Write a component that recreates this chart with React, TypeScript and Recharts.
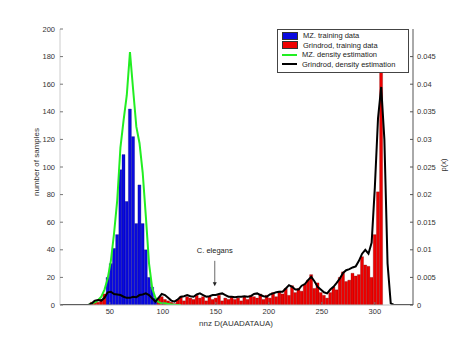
import { ComposedChart, Bar, Line, XAxis, YAxis, ReferenceLine, Legend } from 'recharts'

const FONT = '"Liberation Sans", Arial, sans-serif'
const BLUE = '#0a0ae0'
const RED = '#ee0000'
const GREEN = '#22ee22'
const BLACK = '#000000'

// histogram bins are 3 units wide, values are counts (left axis)
const BIN = 3
const blueFrom = 48
const blueCounts = [20, 30, 41, 51, 98, 109, 75, 142, 122, 59, 87, 59, 40, 20, 13, 5]

const redFrom = 30
const redCounts: (number | null)[] = [
  0, 2, 3, 2, 4, 8,
  null, null, null, null, null, null, null, null, null, null, null, null, null, null, null, null,
  5, 6, 4, 3, 2, 1, 4, 6, 3, 6,
  5, 4, 7, 5, 6, 3, 6, 4, 5, 7,
  3, 5, 4, 6, 4, 5, 3, 6, 4, 7,
  6, 5, 8, 4, 7, 5, 9, 6, 10, 8,
  12, 7, 14, 9, 12, 10, 15, 18, 22, 12,
  16, 9, 7, 5, 9, 13, 11, 20, 24, 17,
  18, 23, 21, 22, 35, 29, 28, 20, 51, 82, 200,
]

// density estimates, p(x) (right axis)
const greenFrom = 18
const greenP = [
  0, 0, 0, 0, 0, 0.0003, 0.0005, 0.0009, 0.0015, 0.0028,
  0.0048, 0.008, 0.013, 0.019, 0.0285, 0.0335, 0.038, 0.0458, 0.039, 0.0323,
  0.0293, 0.024, 0.016, 0.0075, 0.003, 0.0013, 0.0005, 0.0003, 0.0003, 0.0002,
  0.0001, 0, 0, 0,
]

const blackFrom = 3
const blackP = [
  0, 0, 0, 0, 0, 0, 0, 0, 0, 0,
  0.0003, 0.0008, 0.0009, 0.0008, 0.0013, 0.0023, 0.0024, 0.002, 0.0019, 0.0018,
  0.0015, 0.0013, 0.0013, 0.0015, 0.0014, 0.0018, 0.0019, 0.0021, 0.0018, 0.0012,
  0.0006, 0.0013, 0.002, 0.0018, 0.0013, 0.0008, 0.0006, 0.001, 0.0015, 0.0016,
  0.0018, 0.0016, 0.0015, 0.0019, 0.0021, 0.0018, 0.0015, 0.0016, 0.0018, 0.0018,
  0.002, 0.0021, 0.0018, 0.0015, 0.0015, 0.0014, 0.0015, 0.0015, 0.0016, 0.0015,
  0.0016, 0.002, 0.0021, 0.0018, 0.0016, 0.0015, 0.0019, 0.0021, 0.0023, 0.0024,
  0.0024, 0.003, 0.0036, 0.0033, 0.0028, 0.0028, 0.0035, 0.0038, 0.0045, 0.0051,
  0.0043, 0.0033, 0.0028, 0.0023, 0.0021, 0.0028, 0.0033, 0.004, 0.0048, 0.0058,
  0.0063, 0.0065, 0.0068, 0.007, 0.008, 0.0093, 0.01, 0.0093, 0.0113, 0.0213,
  0.0338, 0.0395, 0.03, 0.0075, 0.0003, 0, 0, 0, 0, 0,
  0, 0,
]

const xTicks = [50, 100, 150, 200, 250, 300]
const leftTicks = [0, 20, 40, 60, 80, 100, 120, 140, 160, 180, 200]
const rightTicks = [0, 0.005, 0.01, 0.015, 0.02, 0.025, 0.03, 0.035, 0.04, 0.045]

const legendItems = [
  { label: 'MZ. training data', kind: 'bar', color: BLUE },
  { label: 'Grindrod, training data', kind: 'bar', color: RED },
  { label: 'MZ. density estimation', kind: 'line', color: GREEN },
  { label: 'Grindrod, density estimation', kind: 'line', color: BLACK },
]

type Row = { x: number; blue?: number | null; red?: number | null; green?: number; black?: number }

const buildRows = () => {
  const map = new Map<number, Row>()
  const put = (from: number, vals: (number | null)[], key: keyof Row) => {
    vals.forEach((v, i) => {
      const x = from + i * BIN
      const row = map.get(x) || { x }
      ;(row as any)[key] = v
      map.set(x, row)
    })
  }
  put(blackFrom, blackP, 'black')
  put(greenFrom, greenP, 'green')
  put(redFrom, redCounts, 'red')
  put(blueFrom, blueCounts, 'blue')
  return Array.from(map.values()).sort((a, b) => a.x - b.x)
}

const rows = buildRows()

const tickStyle = { fill: '#333', fontSize: 7.5, fontFamily: FONT }

const LegendBox = () => (
  <div
    style={{
      border: '1px solid #444',
      background: '#fff',
      padding: '1px 4px 3px 4px',
      fontFamily: FONT,
      fontSize: 7.5,
      color: '#222',
      boxSizing: 'border-box',
      width: 132,
    }}
  >
    {legendItems.map((it) => (
      <div key={it.label} style={{ display: 'flex', alignItems: 'center', height: 9.5, whiteSpace: 'nowrap' }}>
        {it.kind === 'bar' ? (
          <span style={{ display: 'inline-block', width: 14, height: 6, background: it.color, border: '0.5px solid #333', marginRight: 5 }} />
        ) : (
          <span style={{ display: 'inline-block', width: 15, height: 0, borderTop: `2px solid ${it.color}`, marginRight: 5 }} />
        )}
        <span>{it.label}</span>
      </div>
    ))}
  </div>
)

const Arrow = (p: any) => (
  <g>
    <line x1={p.x1} y1={p.y1} x2={p.x2} y2={p.y2 - 3} stroke="#444" strokeWidth={0.8} />
    <polygon points={`${p.x2 - 2},${p.y2 - 4} ${p.x2 + 2},${p.y2 - 4} ${p.x2},${p.y2}`} fill="#222" />
  </g>
)

export default function App() {
  return (
    <div style={{ position: 'absolute', left: 0, top: 0, background: '#fff' }}>
      <ComposedChart width={457} height={343} data={rows} margin={{ top: 29, right: 0, bottom: 0, left: 0 }}>
        <XAxis
          dataKey="x"
          type="number"
          domain={[3, 336]}
          ticks={xTicks}
          allowDataOverflow
          height={38}
          tickSize={-3}
          tickMargin={7}
          axisLine={{ stroke: '#bbb' }}
          tickLine={{ stroke: '#777' }}
          tick={tickStyle}
          label={() => (
            <text x={236} y={326} textAnchor="middle" fontSize={8} fontFamily={FONT} fill="#333">
              nnz D(AUADATAUA)
            </text>
          )}
        />
        <YAxis
          yAxisId="n"
          domain={[0, 200]}
          ticks={leftTicks}
          allowDataOverflow
          width={60}
          tickSize={-3}
          tickMargin={8}
          axisLine={{ stroke: '#ccc' }}
          tickLine={{ stroke: '#777' }}
          tick={tickStyle}
          label={() => (
            <text x={39} y={162} transform="rotate(-90, 39, 162)" textAnchor="middle" fontSize={8} fontFamily={FONT} fill="#333">
              number of samples
            </text>
          )}
        />
        <YAxis
          yAxisId="p"
          orientation="right"
          domain={[0, 0.05]}
          ticks={rightTicks}
          allowDataOverflow
          width={44}
          tickSize={-3}
          tickMargin={7}
          axisLine={{ stroke: '#555' }}
          tickLine={{ stroke: '#555' }}
          tick={tickStyle}
          label={() => (
            <text x={446} y={165} transform="rotate(-90, 446, 165)" textAnchor="middle" fontSize={7.5} fontFamily={FONT} fill="#333">
              p(x)
            </text>
          )}
        />
        <Bar yAxisId="n" dataKey="blue" stackId="h" barSize={3} fill={BLUE} stroke="#00006a" strokeWidth={0.3} isAnimationActive={false} />
        <Bar yAxisId="n" dataKey="red" stackId="h" barSize={3} fill={RED} stroke="#700000" strokeWidth={0.3} isAnimationActive={false} />
        <Line yAxisId="p" dataKey="green" type="linear" stroke={GREEN} strokeWidth={2} dot={false} connectNulls isAnimationActive={false} />
        <Line yAxisId="p" dataKey="black" type="linear" stroke={BLACK} strokeWidth={2} dot={false} connectNulls isAnimationActive={false} />
        <ReferenceLine
          yAxisId="n"
          segment={[{ x: 149, y: 32 }, { x: 149, y: 13.5 }]}
          shape={Arrow}
          label={{ value: 'C. elegans', position: 'top', offset: 8, fontSize: 7.5, fontFamily: FONT, fill: '#222' }}
        />
        <Legend
          layout="vertical"
          align="center"
          verticalAlign="middle"
          content={() => <LegendBox />}
          wrapperStyle={{ left: 277, top: 29, width: 132 }}
        />
      </ComposedChart>
    </div>
  )
}
